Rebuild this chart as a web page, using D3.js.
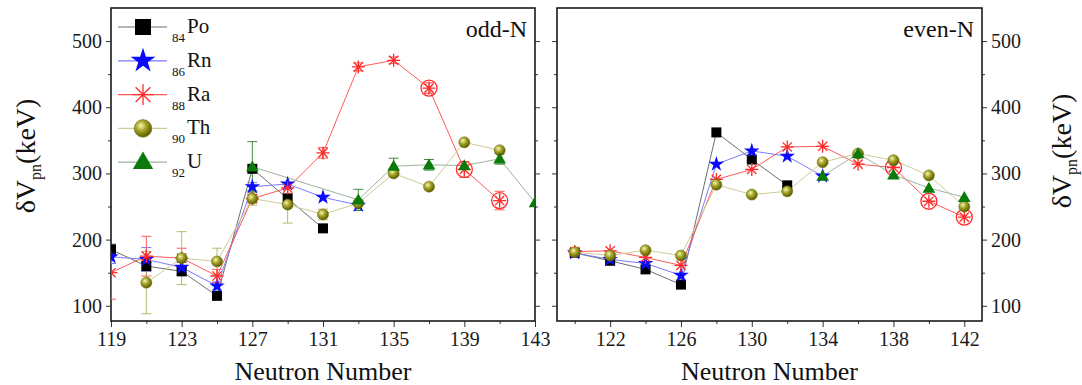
<!DOCTYPE html>
<html>
<head>
<meta charset="utf-8">
<script src="https://cdn.jsdelivr.net/npm/d3@7"></script>
<style>
body { margin: 0; background: #fff; }
text { font-family: "Liberation Serif", "Times New Roman", serif; }
</style>
</head>
<body>
<div id="chart"></div>
<script>
// odd-N panel
const oddN = [119, 121, 123, 125, 127, 129, 131, 133, 135, 137, 139, 141, 143];
const oddPo = [185, 160, 152, 115, 307, 262, 217, null, null, null, null, null, null];
const oddRn = [174, 170, 158, 130, 280, 284, 264, 252, null, null, null, null, null];
const oddRa = [150, 175, 172, 145, 262, 278, 331, 461, 471, 429, 306, 259, null];
const oddTh = [null, 135, 172, 167, 262, 253, 238, 255, 300, 280, 347, 335, null];
const oddU  = [null, null, null, null, 310, null, null, 260, 311, 313, 312, 322, 256];
const oddPoErr = [8, 6, 5, 4, 0, 0, 4, 0, 0, 0, 0, 0, 0];
const oddRnErr = [10, 18, 8, 6, 6, 0, 0, 0, 0, 0, 0, 0, 0];
const oddRaErr = [40, 30, 15, 10, 6, 8, 8, 6, 5, 8, 12, 14, 0];
const oddThErr = [0, 47, 40, 20, 10, 28, 8, 0, 0, 0, 0, 0, 0];
const oddUErr  = [0, 0, 0, 0, 38, 0, 0, 16, 12, 8, 0, 8, 0];
const oddRaCircled = [137, 139, 141];

// even-N panel
const evenN = [120, 122, 124, 126, 128, 130, 132, 134, 136, 138, 140, 142];
const evenPo = [180, 168, 155, 132, 362, 321, 282, null, null, null, null, null];
const evenRn = [180, 170, 164, 146, 314, 334, 326, 296, null, null, null, null];
const evenRa = [182, 183, 173, 161, 291, 306, 340, 341, 314, 309, 258, 234];
const evenTh = [181, 176, 184, 176, 283, 268, 273, 317, 330, 320, 297, 250];
const evenU  = [null, null, null, null, null, null, null, 296, 330, 298, 278, 264];
const evenRaCircled = [138, 140, 142];

// axes
const xDomain = [119, 143];
const yDomain = [77, 550];
const oddTicks = [119, 123, 127, 131, 135, 139, 143];
const oddMinor = [121, 125, 129, 133, 137, 141];
const evenTicks = [122, 126, 130, 134, 138, 142];
const evenMinor = [120, 124, 128, 132, 136, 140];
const yTicks = [100, 200, 300, 400, 500];
const yMinor = [150, 250, 350, 450];

const elements = [
  {name: "Po", z: "84"},
  {name: "Rn", z: "86"},
  {name: "Ra", z: "88"},
  {name: "Th", z: "90"},
  {name: "U",  z: "92"}
];

const style = {
  Po: {fill: "#000000", line: "#6e6e6e", err: "#444444"},
  Rn: {fill: "#0a0aff", line: "#7a7aff", err: "#7a7aff"},
  Ra: {fill: "#ff2a2a", line: "#ff5a5a", err: "#ff5a5a"},
  Th: {fill: "url(#ball)", line: "#cdcd96", err: "#b8b86a"},
  U:  {fill: "#0a7a0a", line: "#9cb49c", err: "#3c8c3c"}
};

const width = 1082, height = 385;
const plotTop = 8, plotBottom = 321;

const svg = d3.select("#chart").append("svg")
  .attr("width", width)
  .attr("height", height);

const defs = svg.append("defs");
const grad = defs.append("radialGradient")
  .attr("id", "ball")
  .attr("cx", "38%").attr("cy", "35%").attr("r", "65%");
grad.append("stop").attr("offset", "0%").attr("stop-color", "#f6f6b4");
grad.append("stop").attr("offset", "45%").attr("stop-color", "#a6a62a");
grad.append("stop").attr("offset", "100%").attr("stop-color", "#5c5c00");

// one marker, k = size factor
function marker(g, name, cx, cy, k) {
  const s = style[name];
  if (name === "Po") {
    const a = 10 * k;
    g.append("rect")
      .attr("x", cx - a / 2).attr("y", cy - a / 2)
      .attr("width", a).attr("height", a)
      .attr("fill", s.fill);
  } else if (name === "Rn") {
    g.append("path")
      .attr("d", d3.symbol(d3.symbolStar, 75 * k * k)())
      .attr("transform", `translate(${cx},${cy})`)
      .attr("fill", s.fill);
  } else if (name === "Ra") {
    const r = 6.5 * k;
    let d = "";
    [0, 45, 90, 135].forEach(a => {
      const t = a * Math.PI / 180;
      d += `M${cx - r * Math.cos(t)},${cy - r * Math.sin(t)}L${cx + r * Math.cos(t)},${cy + r * Math.sin(t)}`;
    });
    g.append("path").attr("d", d)
      .attr("stroke", s.fill).attr("stroke-width", 1.3).attr("fill", "none");
  } else if (name === "Th") {
    g.append("circle")
      .attr("cx", cx).attr("cy", cy).attr("r", 5.5 * k)
      .attr("fill", s.fill).attr("stroke", "#6e6e10").attr("stroke-width", 0.6);
  } else if (name === "U") {
    g.append("path")
      .attr("d", d3.symbol(d3.symbolTriangle, 70 * k * k)())
      .attr("transform", `translate(${cx},${cy + 1})`)
      .attr("fill", s.fill);
  }
}

function drawPanel(opt) {
  const x = d3.scaleLinear().domain(xDomain).range([opt.x0, opt.x1]);
  const y = d3.scaleLinear().domain(yDomain).range([plotBottom, plotTop]);
  const g = svg.append("g");

  const tickFont = sel => sel.selectAll("text")
    .attr("font-family", "Liberation Serif").attr("font-size", 20).attr("fill", "#1a1a1a");

  // bottom axis
  const xb = g.append("g").attr("transform", `translate(0,${plotBottom})`)
    .call(d3.axisBottom(x).tickValues(opt.ticks).tickSize(6).tickPadding(5).tickFormat(d3.format("d")));
  tickFont(xb);
  g.append("g").attr("transform", `translate(0,${plotBottom})`)
    .call(d3.axisBottom(x).tickValues(opt.minor).tickSize(3).tickFormat(""));

  // left / right axes
  const yl = g.append("g").attr("transform", `translate(${opt.x0},0)`)
    .call(d3.axisLeft(y).tickValues(yTicks).tickSize(5).tickPadding(4)
      .tickFormat(opt.labelsLeft ? d3.format("d") : ""));
  tickFont(yl);
  g.append("g").attr("transform", `translate(${opt.x0},0)`)
    .call(d3.axisLeft(y).tickValues(yMinor).tickSize(3).tickFormat(""));
  const yr = g.append("g").attr("transform", `translate(${opt.x1},0)`)
    .call(d3.axisRight(y).tickValues(yTicks).tickSize(5).tickPadding(4)
      .tickFormat(opt.labelsLeft ? "" : d3.format("d")));
  tickFont(yr);
  g.append("g").attr("transform", `translate(${opt.x1},0)`)
    .call(d3.axisRight(y).tickValues(yMinor).tickSize(3).tickFormat(""));
  g.selectAll(".domain").remove();
  g.selectAll(".tick line").attr("stroke", "#333");

  // frame
  g.append("rect")
    .attr("x", opt.x0).attr("y", plotTop)
    .attr("width", opt.x1 - opt.x0).attr("height", plotBottom - plotTop)
    .attr("fill", "none").attr("stroke", "#1a1a1a").attr("stroke-width", 1.6);

  const clipId = "clip" + opt.id;
  defs.append("clipPath").attr("id", clipId).append("rect")
    .attr("x", opt.x0).attr("y", plotTop)
    .attr("width", opt.x1 - opt.x0).attr("height", plotBottom - plotTop);
  const plot = g.append("g").attr("clip-path", `url(#${clipId})`);

  const line = d3.line().x(d => x(d.n)).y(d => y(d.v));

  const series = opt.series.map(s => ({
    name: s.name,
    pts: opt.n.map((n, i) => ({n: n, v: s.vals[i], e: s.errs ? s.errs[i] : 0}))
      .filter(d => d.v != null)
  }));

  series.forEach(s => {
    plot.append("path").datum(s.pts)
      .attr("d", line)
      .attr("fill", "none")
      .attr("stroke", style[s.name].line)
      .attr("stroke-width", 1);
  });

  series.forEach(s => {
    s.pts.filter(d => d.e > 0).forEach(d => {
      const c = style[s.name].err;
      const cx = x(d.n), y1 = y(d.v - d.e), y2 = y(d.v + d.e);
      plot.append("line").attr("x1", cx).attr("x2", cx).attr("y1", y1).attr("y2", y2)
        .attr("stroke", c).attr("stroke-width", 1);
      [y1, y2].forEach(yy => plot.append("line")
        .attr("x1", cx - 5).attr("x2", cx + 5).attr("y1", yy).attr("y2", yy)
        .attr("stroke", c).attr("stroke-width", 1));
    });
  });

  series.forEach(s => {
    s.pts.forEach(d => {
      marker(plot, s.name, x(d.n), y(d.v), 1);
      if (s.name === "Ra" && opt.circled.includes(d.n)) {
        plot.append("circle").attr("cx", x(d.n)).attr("cy", y(d.v)).attr("r", 8)
          .attr("fill", "none").attr("stroke", style.Ra.fill).attr("stroke-width", 1.3);
      }
    });
  });

  // panel label
  g.append("text")
    .attr("x", opt.x1 - 8).attr("y", 37)
    .attr("text-anchor", "end")
    .attr("font-size", 24).attr("fill", "#111")
    .text(opt.label);

  // x title
  g.append("text")
    .attr("x", (opt.x0 + opt.x1) / 2).attr("y", 380)
    .attr("text-anchor", "middle")
    .attr("font-size", 26).attr("fill", "#111")
    .text("Neutron Number");

  // y title
  const yt = g.append("text")
    .attr("transform", `translate(${opt.yTitleX},${opt.yTitleY}) rotate(-90)`)
    .attr("text-anchor", "middle")
    .attr("font-size", 28).attr("fill", "#111");
  yt.append("tspan").text("δV");
  yt.append("tspan").attr("font-size", 16).attr("dy", 6).text("pn");
  yt.append("tspan").attr("dy", -6).text("(keV)");
}

drawPanel({
  id: "odd", x0: 111, x1: 535, n: oddN, ticks: oddTicks, minor: oddMinor,
  labelsLeft: true, label: "odd-N", circled: oddRaCircled,
  yTitleX: 35, yTitleY: 156,
  series: [
    {name: "Po", vals: oddPo, errs: oddPoErr},
    {name: "Rn", vals: oddRn, errs: oddRnErr},
    {name: "Ra", vals: oddRa, errs: oddRaErr},
    {name: "Th", vals: oddTh, errs: oddThErr},
    {name: "U",  vals: oddU,  errs: oddUErr}
  ]
});

drawPanel({
  id: "even", x0: 557, x1: 982, n: evenN, ticks: evenTicks, minor: evenMinor,
  labelsLeft: false, label: "even-N", circled: evenRaCircled,
  yTitleX: 1071, yTitleY: 151,
  series: [
    {name: "Po", vals: evenPo},
    {name: "Rn", vals: evenRn},
    {name: "Ra", vals: evenRa},
    {name: "Th", vals: evenTh},
    {name: "U",  vals: evenU}
  ]
});

// legend
const legend = svg.append("g");
elements.forEach((el, i) => {
  const cy = 27 + i * 33.8;
  legend.append("line")
    .attr("x1", 118).attr("x2", 167).attr("y1", cy).attr("y2", cy)
    .attr("stroke", style[el.name].line).attr("stroke-width", 1.2);
  marker(legend, el.name, 143, cy, 1.6);
  legend.append("text")
    .attr("x", 172).attr("y", cy + 15)
    .attr("font-size", 13).attr("fill", "#111")
    .text(el.z);
  legend.append("text")
    .attr("x", 187).attr("y", cy + 6)
    .attr("font-size", 21).attr("fill", "#111")
    .text(el.name);
});
</script>
</body>
</html>
